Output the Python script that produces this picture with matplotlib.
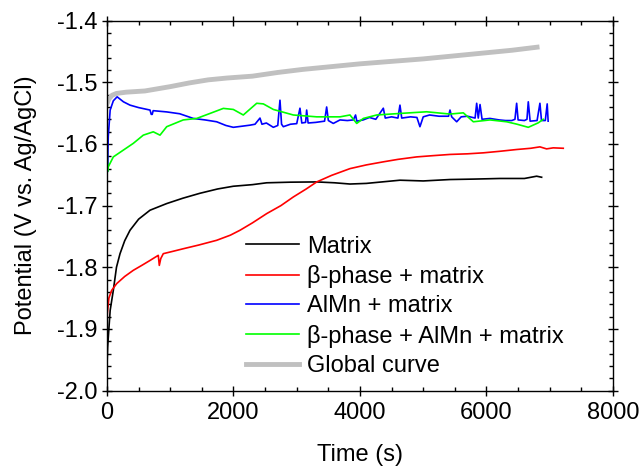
import matplotlib
matplotlib.use("Agg")
import matplotlib.pyplot as plt
from matplotlib.ticker import MultipleLocator

plt.rcParams['font.family'] = ['Liberation Sans', 'DejaVu Sans']
plt.rcParams['axes.unicode_minus'] = False

# Matrix
t_matrix = [0, 10, 21, 50, 100, 150, 206, 280, 364, 500, 680, 944, 1200, 1470, 1750, 1997,
            2300, 2525, 2900, 3316, 3600, 3842, 4100, 4632, 5000, 5423, 5800, 6213, 6600, 6793, 6872]
v_matrix = [-1.96, -1.93, -1.913, -1.87, -1.8375, -1.80, -1.778, -1.757, -1.740, -1.722, -1.7075,
            -1.6967, -1.688, -1.680, -1.673, -1.6686, -1.666, -1.663, -1.662, -1.6616, -1.663, -1.665,
            -1.664, -1.6588, -1.660, -1.6577, -1.657, -1.656, -1.656, -1.6523, -1.654]

# beta-phase + matrix
t_beta = [0, 5, 30, 74, 153, 280, 416, 550, 680, 790, 811, 827, 850, 890, 1050, 1206, 1450, 1734,
          1950, 2103, 2300, 2525, 2750, 2946, 3150, 3316, 3550, 3842, 4100, 4369, 4600, 4896, 5150,
          5423, 5700, 5950, 6200, 6477, 6700, 6845, 6950, 7056, 7214]
v_beta = [-1.895, -1.875, -1.85, -1.8375, -1.8266, -1.815, -1.805, -1.797, -1.789, -1.782, -1.7807,
          -1.797, -1.786, -1.778, -1.774, -1.770, -1.764, -1.7563, -1.748, -1.740, -1.728, -1.713,
          -1.700, -1.686, -1.673, -1.6616, -1.651, -1.640, -1.634, -1.629, -1.625, -1.621, -1.619,
          -1.617, -1.616, -1.6144, -1.612, -1.609, -1.607, -1.6047, -1.608, -1.6063, -1.607]

# AlMn + matrix
t_almn = [0, 8, 20, 50, 100, 160, 260, 364, 500, 680, 700, 715, 730, 944, 1150, 1365, 1550, 1734,
          1880, 1997, 2150, 2261, 2340, 2419, 2450, 2520, 2630, 2700, 2735, 2760, 2788, 2900, 3000,
          3051, 3080, 3140, 3157, 3180, 3300, 3440, 3473, 3500, 3578, 3684, 3800, 3895, 3930, 3950,
          4050, 4150, 4250, 4369, 4400, 4500, 4600, 4632, 4660, 4800, 4900, 4948, 5000, 5100, 5250,
          5400, 5423, 5450, 5529, 5600, 5700, 5820, 5845, 5870, 5898, 5930, 6055, 6200, 6300, 6400,
          6450, 6477, 6500, 6600, 6640, 6661, 6690, 6800, 6845, 6870, 6930, 6960, 6975]
v_almn = [-1.59, -1.645, -1.588, -1.545, -1.530, -1.5235, -1.5316, -1.537, -1.541, -1.545, -1.552,
          -1.552, -1.546, -1.548, -1.551, -1.5586, -1.561, -1.564, -1.570, -1.573, -1.571, -1.5695,
          -1.568, -1.558, -1.568, -1.566, -1.573, -1.570, -1.529, -1.568, -1.572, -1.568, -1.567,
          -1.542, -1.566, -1.565, -1.545, -1.566, -1.565, -1.563, -1.540, -1.562, -1.5667, -1.561,
          -1.562, -1.561, -1.553, -1.563, -1.561, -1.557, -1.560, -1.542, -1.558, -1.556, -1.558,
          -1.537, -1.558, -1.556, -1.557, -1.572, -1.556, -1.553, -1.555, -1.555, -1.545, -1.556,
          -1.564, -1.556, -1.555, -1.558, -1.534, -1.558, -1.536, -1.560, -1.5586, -1.561, -1.562,
          -1.562, -1.560, -1.534, -1.561, -1.562, -1.560, -1.5316, -1.563, -1.562, -1.534, -1.562,
          -1.562, -1.535, -1.563]

# beta-phase + AlMn + matrix
t_both = [0, 8, 21, 100, 258, 416, 574, 732, 838, 944, 1206, 1418, 1628, 1839, 1997, 2155, 2367,
          2472, 2630, 2946, 3316, 3684, 3842, 3948, 4053, 4264, 4632, 5054, 5423, 5634, 5792, 6055,
          6319, 6477, 6661, 6819, 6898]
v_both = [-1.59, -1.645, -1.637, -1.621, -1.610, -1.599, -1.5857, -1.5803, -1.5857, -1.572, -1.561,
          -1.5586, -1.5505, -1.5423, -1.544, -1.553, -1.534, -1.535, -1.544, -1.553, -1.556, -1.556,
          -1.553, -1.5667, -1.5586, -1.553, -1.5505, -1.5478, -1.5515, -1.5495, -1.564, -1.561,
          -1.564, -1.5678, -1.573, -1.5657, -1.560]

# Global curve
t_global = [0, 30, 80, 150, 300, 600, 1000, 1300, 1600, 1900, 2300, 2700, 3100, 3500, 4000, 4500,
            5000, 5500, 6000, 6400, 6800]
v_global = [-1.535, -1.527, -1.521, -1.518, -1.516, -1.514, -1.507, -1.501, -1.496, -1.493, -1.490,
            -1.484, -1.479, -1.475, -1.470, -1.466, -1.462, -1.457, -1.452, -1.448, -1.443]

fig = plt.figure(figsize=(6.43, 4.67), dpi=100)
ax = fig.add_axes([0.1664, 0.1638, 0.7869, 0.7919])

ax.plot(t_matrix, v_matrix, color='black', lw=1.2, label='Matrix')
ax.plot(t_beta, v_beta, color='#ff0000', lw=1.2, label='β-phase + matrix')
ax.plot(t_almn, v_almn, color='#0000ff', lw=1.2, label='AlMn + matrix')
ax.plot(t_both, v_both, color='#00ff00', lw=1.2, label='β-phase + AlMn + matrix')
ax.plot(t_global, v_global, color='#c0c0c0', lw=3.5, label='Global curve')

ax.set_xlim(0, 8000)
ax.set_ylim(-2.0, -1.4)
ax.xaxis.set_major_locator(MultipleLocator(2000))
ax.xaxis.set_minor_locator(MultipleLocator(500))
ax.yaxis.set_major_locator(MultipleLocator(0.1))
ax.yaxis.set_minor_locator(MultipleLocator(0.02))
ax.yaxis.set_major_formatter(plt.FuncFormatter(lambda v, p: f'{v:.1f}'))

ax.tick_params(which='major', direction='inout', length=7, width=1, labelsize=17,
               top=True, right=True)
ax.tick_params(axis='x', which='major', pad=5)
ax.tick_params(which='minor', direction='in', length=3, width=1, top=True, right=True)
for s in ax.spines.values():
    s.set_linewidth(1.0)

ax.set_xlabel('Time (s)', fontsize=17, labelpad=14)
ax.set_ylabel('Potential (V vs. Ag/AgCl)', fontsize=17, labelpad=14)

ax.legend(loc='lower left', bbox_to_anchor=(0.3826, 0.1927), bbox_transform=fig.transFigure,
          frameon=False, fontsize=17, borderpad=0, borderaxespad=0, handlelength=2.25,
          handletextpad=0.35, labelspacing=0.31)

fig.savefig('out.png', dpi=100)
